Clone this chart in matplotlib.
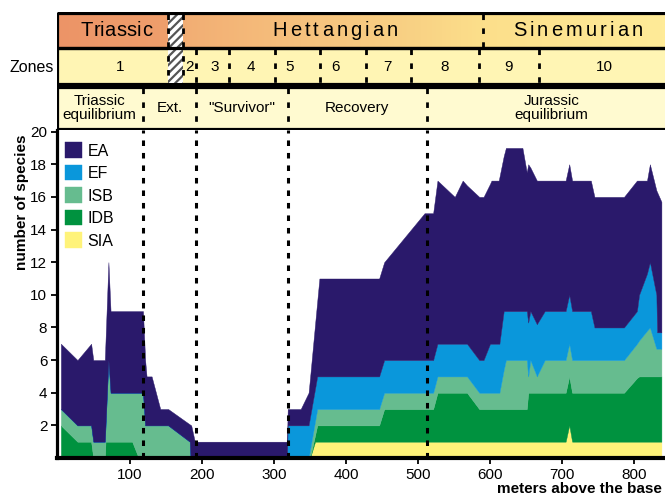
import numpy as np
import matplotlib
matplotlib.use('Agg')
import matplotlib.pyplot as plt
from matplotlib.patches import Rectangle
from matplotlib.colors import LinearSegmentedColormap
from matplotlib.textpath import TextToPath
from matplotlib.font_manager import FontProperties
from matplotlib.transforms import IdentityTransform

plt.rcParams['font.family'] = ['Liberation Sans', 'DejaVu Sans']
plt.rcParams['lines.scale_dashes'] = False
plt.rcParams['hatch.linewidth'] = 1.6

# meters above the base and number of species per group
meters = [4, 27, 46, 49, 65, 66, 70, 73, 103, 112, 118, 121, 123, 130, 142, 153, 183, 184, 185, 190,
          318, 319, 337, 348, 350, 357, 360, 363, 446, 453, 509, 521, 527, 551, 562, 568, 585, 591,
          600, 602, 612, 613, 619, 622, 645, 651, 653, 656, 665, 676, 705, 710, 714, 740, 745, 786,
          804, 807, 818, 822, 831, 832, 838]
sia = [0, 0, 0, 0, 0, 0, 0, 0, 0, 0, 0, 0, 0, 0, 0, 0, 0, 0, 0, 0,
       0, 0, 0, 0, 0, 1, 1, 1, 1, 1, 1, 1, 1, 1, 1, 1, 1, 1,
       1, 1, 1, 1, 1, 1, 1, 1, 1, 1, 1, 1, 1, 2, 1, 1, 1, 1,
       1, 1, 1, 1, 1, 1, 1]
idb = [2, 1, 1, 0, 0, 1, 1, 1, 1, 0, 0, 0, 0, 0, 0, 0, 0, 0, 0, 0,
       0, 0, 0, 0, 0, 0.4, 1, 1, 1, 2, 2, 2, 3, 3, 3, 3, 2, 2,
       2, 2, 2, 2, 2, 2, 2, 2, 3, 3, 3, 3, 3, 3, 3, 3, 3, 3,
       3.9, 4, 4, 4, 4, 4, 4]
isb = [1, 1, 1, 1, 1, 1, 5, 3, 3, 4, 4, 2, 2, 2, 2, 2, 1, 0, 0, 0,
       0, 0, 0, 0, 0.5, 0.85, 1, 1, 1, 1, 1, 1, 1, 1, 1, 1, 1, 1,
       1, 1, 1, 1, 2.4, 3, 3, 3, 1, 2, 1, 2, 2, 2, 2, 2, 2, 2,
       2.1, 2.2, 2.8, 3, 1.7, 1.7, 1.7]
ef = [0, 0, 0, 0, 0, 0, 0, 0, 0, 0, 0, 0, 0, 0, 0, 0, 0, 0, 0, 0,
      0, 2, 2, 2, 2, 2, 2, 2, 2, 2, 2, 2, 2, 2, 2, 2, 2, 2,
      3, 3, 3, 3, 3.6, 3, 3, 3, 3.3, 3, 3.2, 3, 3, 3, 3, 3, 2, 2,
      2, 2.8, 3.5, 4, 3.3, 1, 1]
ea = [4, 4, 5, 5, 5, 5.2, 6, 5, 5, 5, 5, 4, 3, 3, 1, 1, 1.06, 2.03, 2, 1,
      1, 1, 1, 2, 2.4, 3.95, 4.6, 6, 6, 6, 9, 9, 10, 9, 10, 9.7, 10, 10,
      9.8, 10, 10, 10.2, 9.5, 10, 10, 8.5, 9.7, 8.8, 8.8, 8, 8, 8, 8, 8, 8, 8,
      8, 7, 5.7, 6, 6.4, 8.6, 8]
groups = ['SIA', 'IDB', 'ISB', 'EF', 'EA']
colors = ['#FFF37A', '#00923F', '#66BC8F', '#0A97DB', '#2A196B']

# header info
phase_bounds = [118, 191, 320, 512]
zone_bounds = [191, 237, 301, 364, 428, 490, 584, 668]
zone_names = ['1', '2', '3', '4', '5', '6', '7', '8', '9', '10']
zone_pos = [86, 182, 218, 268, 322, 385, 458, 537, 626, 759]
stage_names = ['Triassic', 'Hettangian', 'Sinemurian']
stage_pos = [81, 385, 722]
stage_track = [0.4, 3.1, 3.1]
stage_bound = 590
gap = (153, 173)
phase_names = ['Triassic\nequilibrium', 'Ext.', '"Survivor"', 'Recovery', 'Jurassic\nequilibrium']
phase_pos = [58, 155, 255, 415, 685]

xlo, xhi = -1.4, 843

fig = plt.figure(figsize=(6.65, 4.98), dpi=100)
ax = fig.add_axes([57/665, 40/498, 608/665, 328/498])

polys = ax.stackplot(meters, sia, idb, isb, ef, ea, colors=colors, labels=groups, linewidth=0)
for p in polys:
    p.set_edgecolor('face')
    p.set_linewidth(0.3)

for b in phase_bounds:
    ax.axvline(b, color='black', lw=2.2, linestyle=(0, (4, 5)), zorder=5)

ax.set_xlim(xlo, xhi)
ax.set_ylim(0, 20.1)
ax.set_xticks(range(100, 900, 100))
ax.set_yticks(range(2, 22, 2))
ax.tick_params(direction='out', length=4, width=1.3, labelsize=11, pad=3)
ax.spines['top'].set_visible(False)
ax.spines['right'].set_visible(False)
ax.spines['left'].set_linewidth(2.3)
ax.spines['bottom'].set_linewidth(3)

h, l = ax.get_legend_handles_labels()
ax.legend(h[::-1], l[::-1], loc='upper left', bbox_to_anchor=(0.013, 0.962), frameon=False,
          fontsize=11.5, handlelength=1.1, handleheight=1.1, handletextpad=0.3,
          labelspacing=0.4, borderpad=0, borderaxespad=0)

fig.text(22/665, 296/498, 'number of species', rotation=90, ha='center', va='center',
         fontsize=11, fontweight='bold')
fig.text(662/665, 9/498, 'meters above the base', ha='right', va='center',
         fontsize=11, fontweight='bold')

# header bands (y in image pixels, top down)
hx = fig.add_axes([57/665, 368/498, 608/665, 118/498])
cmap = LinearSegmentedColormap.from_list('strat', [
    (0.0, '#EC9467'), (0.18, '#EF9F6C'), (0.21, '#F2AE74'), (0.4, '#F6C17D'),
    (0.6, '#F9D385'), (0.7, '#FCDF8B'), (1.0, '#FFEB98')])
grad = np.linspace(0, 1, 300).reshape(1, -1)
hx.imshow(grad, extent=[xlo, xhi, 48, 13], aspect='auto', cmap=cmap, zorder=0)
hx.add_patch(Rectangle((xlo, 13), 900, 35, facecolor='none', edgecolor='black', lw=2.3, zorder=3))
hx.add_patch(Rectangle((xlo, 48), 900, 36, facecolor='#FFF5B4', edgecolor='black', lw=2.3, zorder=1))
hx.add_patch(Rectangle((xlo, 87), 900, 42, facecolor='#FFFAD0', edgecolor='black', lw=2.3, zorder=1))
hx.add_patch(Rectangle((gap[0], 14), gap[1] - gap[0], 69, facecolor='white', edgecolor='#555555',
                       hatch='////', lw=0, zorder=2))

dash = (0, (4, 6))
for g in gap:
    hx.plot([g, g], [14, 83], color='black', lw=2, linestyle=dash, zorder=4)
hx.plot([stage_bound, stage_bound], [14, 47], color='black', lw=2, linestyle=dash, zorder=4)
for b in zone_bounds:
    hx.plot([b, b], [49, 83], color='black', lw=2, linestyle=dash, zorder=4)
for b in phase_bounds:
    hx.plot([b, b], [88, 128], color='black', lw=2, linestyle=dash, zorder=4)

hx.set_xlim(xlo, xhi)
hx.set_ylim(130, 12)

# letter-spaced stage names, placed one glyph at a time
t2p = TextToPath()
fp = FontProperties(family='Liberation Sans', size=14.5)
px = fig.dpi / 72.0


def text_w(s):
    if not s:
        return 0.0
    w, _, _ = t2p.get_text_width_height_descent(s, fp, ismath=False)
    return w * px


for name, x, tr in zip(stage_names, stage_pos, stage_track):
    cx, cy = hx.transData.transform((x, 30))
    x0 = cx - (text_w(name) + tr * (len(name) - 1)) / 2
    for i, ch in enumerate(name):
        fig.text(x0 + text_w(name[:i]) + tr * i, cy, ch, transform=IdentityTransform(),
                 ha='left', va='center', fontproperties=fp, zorder=5)

for name, x in zip(zone_names, zone_pos):
    hx.text(x, 67, name, ha='center', va='center', fontsize=11, zorder=5)
for name, x in zip(phase_names, phase_pos):
    hx.text(x, 108, name, ha='center', va='center', fontsize=11, linespacing=0.95, zorder=5)
hx.text(-6, 67, 'Zones', ha='right', va='center', fontsize=11.5)

hx.axis('off')

fig.savefig('out.png', dpi=100)
